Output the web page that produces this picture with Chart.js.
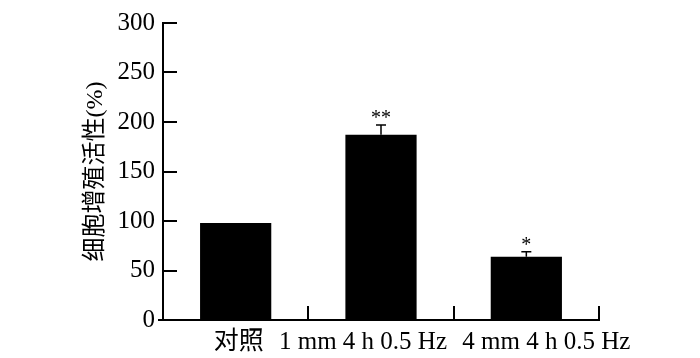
<!DOCTYPE html>
<html>
<head>
<meta charset="utf-8">
<script src="https://cdn.jsdelivr.net/npm/chart.js@4"></script>
<style>
  html, body { margin: 0; padding: 0; background: #fff; }
  #wrap { width: 700px; height: 358px; }
</style>
</head>
<body>
<div id="wrap"><canvas id="chart1"></canvas></div>
<script>
const categories = ['对照', '1 mm 4 h 0.5 Hz', '4 mm 4 h 0.5 Hz'];
const viability = [98, 187, 64];
const errors = [0, 10, 5];
const marks = ['', '**', '*'];
const yMin = 0, yMax = 300, yStep = 50;

const FONT = '"Liberation Serif", "Noto Sans CJK SC", serif';
const labelShift = [3, -18, 20]; // label offsets from category centre, px

// tick marks, error bars, significance marks and category labels
const extras = {
    id: 'extras',
    afterDraw(chart) {
        const ctx = chart.ctx;
        const x = chart.scales.x, y = chart.scales.y;
        const area = chart.chartArea;
        ctx.save();
        ctx.strokeStyle = '#000';
        ctx.fillStyle = '#000';
        ctx.lineWidth = 2;

        // inward y ticks
        y.ticks.forEach(t => {
            const py = Math.round(y.getPixelForValue(t.value));
            ctx.beginPath();
            ctx.moveTo(area.left, py);
            ctx.lineTo(area.left + 14, py);
            ctx.stroke();
        });
        // small stub of x axis left of y axis
        ctx.beginPath();
        ctx.moveTo(area.left - 5, area.bottom);
        ctx.lineTo(area.left, area.bottom);
        ctx.stroke();

        // x ticks between categories (upward)
        const half = (x.getPixelForValue(1) - x.getPixelForValue(0)) / 2;
        categories.forEach((c, i) => {
            const px = Math.round(x.getPixelForValue(i) + half);
            ctx.beginPath();
            ctx.moveTo(px, area.bottom);
            ctx.lineTo(px, area.bottom - 14);
            ctx.stroke();
        });

        // error bars (upper half only)
        ctx.lineWidth = 1.5;
        viability.forEach((v, i) => {
            if (!errors[i]) return;
            const px = x.getPixelForValue(i);
            const top = y.getPixelForValue(v + errors[i]);
            const base = y.getPixelForValue(v);
            ctx.beginPath();
            ctx.moveTo(px, base);
            ctx.lineTo(px, top);
            ctx.moveTo(px - 5, top);
            ctx.lineTo(px + 5, top);
            ctx.stroke();
        });

        // significance marks
        ctx.font = '20px ' + FONT;
        ctx.textAlign = 'center';
        ctx.textBaseline = 'alphabetic';
        marks.forEach((m, i) => {
            if (!m) return;
            const px = x.getPixelForValue(i);
            const top = y.getPixelForValue(viability[i] + errors[i]);
            ctx.fillText(m, px, top - 1);
        });

        // category labels
        ctx.font = '25px ' + FONT;
        ctx.textBaseline = 'middle';
        categories.forEach((c, i) => {
            ctx.fillText(c, x.getPixelForValue(i) + labelShift[i], area.bottom + 22);
        });
        ctx.restore();
    }
};

document.addEventListener('DOMContentLoaded', () => {
    const chart1 = document.getElementById('chart1');
    new Chart(chart1.getContext('2d'), {
        type: 'bar',
        data: {
            labels: categories,
            datasets: [{
                label: '细胞增殖活性',
                data: viability,
                backgroundColor: '#000',
                borderWidth: 0,
                barPercentage: 0.49,
                categoryPercentage: 1
            }]
        },
        options: {
            responsive: true,
            maintainAspectRatio: false,
            animation: false,
            layout: {
                padding: { top: 20, right: 101, left: 0, bottom: 0 }
            },
            plugins: {
                legend: { display: false },
                tooltip: { enabled: false }
            },
            scales: {
                x: {
                    grid: { display: false },
                    border: { display: true, color: '#000', width: 2 },
                    ticks: { display: false },
                    afterFit(scale) { scale.height = 38; }
                },
                y: {
                    min: yMin,
                    max: yMax,
                    grid: { display: false, drawTicks: false },
                    border: { display: true, color: '#000', width: 2 },
                    ticks: {
                        stepSize: yStep,
                        padding: 8,
                        color: '#000',
                        font: { family: FONT, size: 25 }
                    },
                    title: {
                        display: true,
                        text: '细胞增殖活性(%)',
                        color: '#000',
                        font: { family: FONT, size: 24 },
                        padding: { top: 81, bottom: 0 }
                    },
                    afterFit(scale) { scale.width = 163; }
                }
            }
        },
        plugins: [extras]
    });
});
</script>
</body>
</html>
